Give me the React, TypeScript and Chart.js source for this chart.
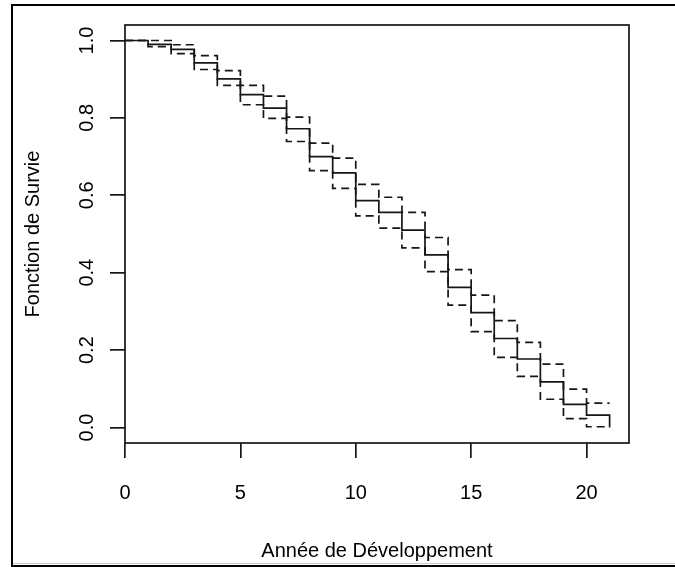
import React, { useEffect, useRef } from "react";
import { Chart, registerables } from "chart.js";

Chart.register(...registerables);

// ---- data ----
const years = [0, 1, 2, 3, 4, 5, 6, 7, 8, 9, 10, 11, 12, 13, 14, 15, 16, 17, 18, 19, 20, 21];
const survie = [1.0, 0.99, 0.977, 0.942, 0.901, 0.86, 0.825, 0.772, 0.7, 0.658, 0.586, 0.556, 0.51, 0.446, 0.362, 0.297, 0.23, 0.177, 0.118, 0.06, 0.032, 0.0];
const borneSup = [1.0, 1.0, 0.989, 0.961, 0.922, 0.884, 0.856, 0.802, 0.735, 0.696, 0.628, 0.595, 0.556, 0.491, 0.408, 0.342, 0.276, 0.22, 0.164, 0.099, 0.063, 0.063];
const borneInf = [1.0, 0.984, 0.966, 0.925, 0.884, 0.834, 0.799, 0.739, 0.664, 0.618, 0.547, 0.515, 0.464, 0.403, 0.316, 0.248, 0.181, 0.132, 0.073, 0.023, 0.002, 0.002];

const xTicks = [0, 5, 10, 15, 20];
const yTicks = [0, 0.2, 0.4, 0.6, 0.8, 1.0];
const yTickLabels = ["0.0", "0.2", "0.4", "0.6", "0.8", "1.0"];
const xTitle = "Année de Développement";
const yTitle = "Fonction de Survie";

const FONT = '"Liberation Sans", Arial, Helvetica, sans-serif';
const INK = "#161616";
const FONT_SIZE = 20;

const toPoints = (vals: number[]) => years.map((t, i) => ({ x: t, y: vals[i] }));

const rPlotPlugin = {
  id: "rPlot",
  beforeDraw(chart: any) {
    const ctx = chart.ctx;
    const W = chart.width;
    const H = chart.height;
    ctx.save();
    ctx.fillStyle = "#ffffff";
    ctx.fillRect(0, 0, W, H);
    // outer frame
    ctx.fillStyle = "#000000";
    ctx.fillRect(11, 4, W - 11, 2);
    ctx.fillRect(11, 4, 2, H - 4);
    ctx.fillStyle = "#c8c8c8";
    ctx.fillRect(13, 563, W - 13, 1);
    ctx.fillStyle = "#000000";
    ctx.fillRect(11, 565, W - 11, 2);
    ctx.restore();
  },
  afterDraw(chart: any) {
    const ctx = chart.ctx;
    const a = chart.chartArea;
    ctx.save();
    ctx.strokeStyle = INK;
    ctx.lineWidth = 1.7;
    ctx.strokeRect(a.left, a.top, a.right - a.left, a.bottom - a.top);
    // rotated y tick labels (R style, parallel to axis)
    const ys = chart.scales.y;
    ctx.fillStyle = "#000000";
    ctx.font = `${FONT_SIZE}px ${FONT}`;
    ctx.textAlign = "center";
    ctx.textBaseline = "middle";
    yTicks.forEach((v, i) => {
      const py = ys.getPixelForValue(v);
      ctx.save();
      ctx.translate(87, py);
      ctx.rotate(-Math.PI / 2);
      ctx.fillText(yTickLabels[i], 0, 0);
      ctx.restore();
    });
    ctx.restore();
  },
};

export default function App() {
  const ref = useRef<HTMLCanvasElement | null>(null);

  useEffect(() => {
    if (!ref.current) return;
    const lineCommon = {
      stepped: "before" as const,
      borderColor: INK,
      borderWidth: 1.7,
      pointRadius: 0,
      fill: false,
      tension: 0,
    };
    const chart = new Chart(ref.current, {
      type: "line",
      data: {
        datasets: [
          { ...lineCommon, label: "Survie", data: toPoints(survie) },
          { ...lineCommon, label: "Borne sup.", data: toPoints(borneSup), borderDash: [8, 5] },
          { ...lineCommon, label: "Borne inf.", data: toPoints(borneInf), borderDash: [8, 5] },
        ],
      },
      options: {
        animation: false,
        responsive: false,
        maintainAspectRatio: false,
        layout: { padding: { left: 0, top: 25, right: 46, bottom: 0 } },
        plugins: { legend: { display: false }, tooltip: { enabled: false } },
        scales: {
          x: {
            type: "linear",
            min: 0,
            max: 21.84,
            afterBuildTicks: (s: any) => {
              s.ticks = xTicks.map((v) => ({ value: v }));
            },
            afterFit: (s: any) => {
              s.height = 124;
            },
            grid: { drawOnChartArea: false, drawTicks: true, tickLength: 15, color: INK, lineWidth: 1.7 },
            border: { display: false },
            ticks: {
              padding: 23,
              color: "#000000",
              font: { family: FONT, size: FONT_SIZE },
              maxRotation: 0,
              minRotation: 0,
              callback: (v: any) => String(v),
            },
            title: {
              display: true,
              text: xTitle,
              color: "#000000",
              font: { family: FONT, size: FONT_SIZE },
              padding: { top: 0, bottom: 4 },
            },
          },
          y: {
            type: "linear",
            min: -0.04,
            max: 1.04,
            afterBuildTicks: (s: any) => {
              s.ticks = yTicks.map((v) => ({ value: v }));
            },
            afterFit: (s: any) => {
              s.width = 125;
            },
            grid: { drawOnChartArea: false, drawTicks: true, tickLength: 15, color: INK, lineWidth: 1.7 },
            border: { display: false },
            ticks: { display: false },
            title: {
              display: true,
              text: yTitle,
              color: "#000000",
              font: { family: FONT, size: FONT_SIZE },
              padding: { top: 21, bottom: 0 },
            },
          },
        },
      },
      plugins: [rPlotPlugin],
    });
    return () => chart.destroy();
  }, []);

  return (
    <canvas
      ref={ref}
      width={675}
      height={567}
      style={{ position: "absolute", left: 0, top: 0, width: 675, height: 567 }}
    />
  );
}
